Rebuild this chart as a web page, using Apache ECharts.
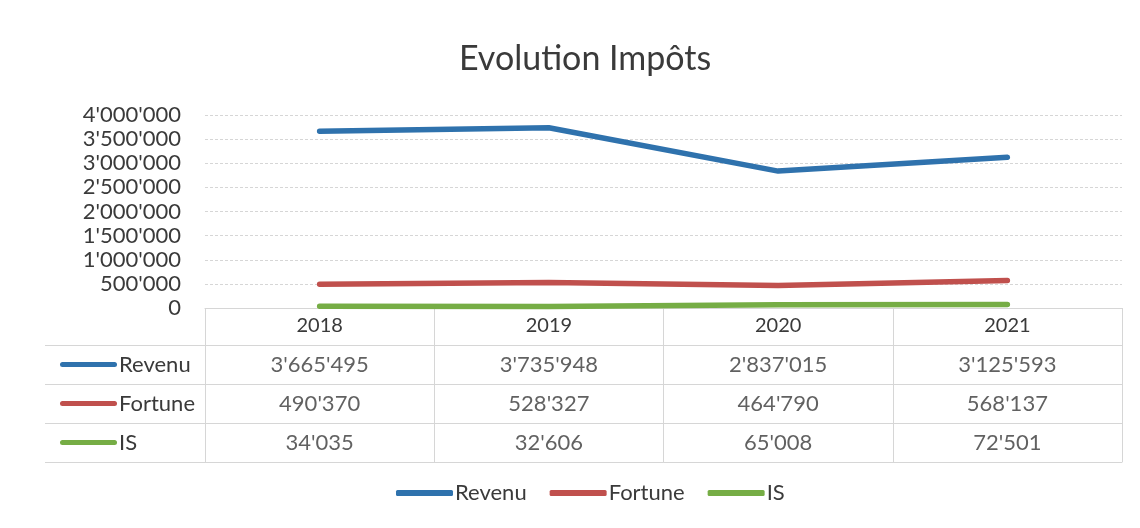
<!DOCTYPE html>
<html><head><meta charset="utf-8">
<script src="https://cdn.jsdelivr.net/npm/echarts@6/dist/echarts.min.js"></script>
<style>html,body{margin:0;padding:0;background:#fff}#c{width:1140px;height:528px}</style>
</head><body><div id="c"></div>
<script>
const years = ['2018', '2019', '2020', '2021'];
const seriesNames = ['Revenu', 'Fortune', 'IS'];
const revenu = [3665495, 3735948, 2837015, 3125593];
const fortune = [490370, 528327, 464790, 568137];
const isTax = [34035, 32606, 65008, 72501];
const yTicks = { min: 0, max: 4000000, interval: 500000 };
const colors = ['#2f72ad', '#c0504d', '#76ad45'];

const fmt = v => String(v).replace(/\B(?=(\d{3})+(?!\d))/g, "'");
const values = [revenu, fortune, isTax];
const textColor = '#3a3a3a';
const gridColor = '#d6d6d6';
const font = 'Lato';

const cells = [];
values.forEach((arr, r) => arr.forEach((v, c) => cells.push([c, r, v])));

const rich = {};
seriesNames.forEach((n, i) => {
  rich['l' + i] = { width: 57, height: 5, backgroundColor: colors[i], borderRadius: 3 };
});
rich.t = { fontSize: 22, color: textColor, fontFamily: font, padding: [0, 0, 0, 2] };

const chart = echarts.init(document.getElementById('c'));
chart.setOption({
  animation: false,
  textStyle: { fontFamily: font },
  title: { text: 'Evolution Impôts', left: 454, top: 37,
    textStyle: { fontSize: 34, fontWeight: 'normal', color: textColor, fontFamily: font } },
  legend: { bottom: 19, left: 391, icon: 'roundRect', itemWidth: 57, itemHeight: 6, itemGap: 23,
    data: seriesNames,
    textStyle: { fontSize: 22, color: textColor, fontFamily: font, padding: [0, 0, 0, -3] } },
  grid: [
    { left: 205, right: 18, top: 115, bottom: 220 },
    { left: 205, right: 18, top: 345, bottom: 66 }
  ],
  xAxis: [
    { type: 'category', gridIndex: 0, data: years, boundaryGap: true,
      axisLine: { lineStyle: { color: gridColor } },
      axisTick: { show: true, length: 37, lineStyle: { color: gridColor } },
      axisLabel: { fontSize: 20, color: textColor, margin: 8 } },
    { type: 'category', gridIndex: 1, data: years, boundaryGap: true, position: 'bottom',
      axisLine: { show: true, lineStyle: { color: gridColor } },
      axisTick: { show: false }, axisLabel: { show: false },
      splitLine: { show: true, lineStyle: { color: gridColor } } }
  ],
  yAxis: [
    { type: 'value', gridIndex: 0, min: yTicks.min, max: yTicks.max, interval: yTicks.interval,
      axisLine: { show: false }, axisTick: { show: false },
      axisLabel: { fontSize: 22, color: textColor, margin: 24, formatter: v => fmt(v) },
      splitLine: { lineStyle: { color: gridColor, type: [3, 2] } } },
    { type: 'category', gridIndex: 1, data: seriesNames, inverse: true, boundaryGap: true,
      axisLine: { show: true, lineStyle: { color: gridColor } },
      axisTick: { show: true, length: 160, lineStyle: { color: gridColor } },
      splitLine: { show: true, lineStyle: { color: gridColor } },
      axisLabel: { align: 'left', margin: 145, rich: rich,
        formatter: (n, i) => '{l' + seriesNames.indexOf(n) + '|}{t|' + n + '}' } }
  ],
  series: [
    { name: seriesNames[0], type: 'line', data: revenu, color: colors[0], symbol: 'none',
      lineStyle: { width: 5.5, cap: 'round' }, xAxisIndex: 0, yAxisIndex: 0 },
    { name: seriesNames[1], type: 'line', data: fortune, color: colors[1], symbol: 'none',
      lineStyle: { width: 5.5, cap: 'round' }, xAxisIndex: 0, yAxisIndex: 0 },
    { name: seriesNames[2], type: 'line', data: isTax, color: colors[2], symbol: 'none',
      lineStyle: { width: 5.5, cap: 'round' }, xAxisIndex: 0, yAxisIndex: 0 },
    { type: 'scatter', xAxisIndex: 1, yAxisIndex: 1, data: cells, symbolSize: 0, silent: true,
      label: { show: true, position: 'inside', fontSize: 22, color: textColor, fontFamily: font,
        formatter: p => fmt(p.value[2]) } }
  ]
});
</script></body></html>
